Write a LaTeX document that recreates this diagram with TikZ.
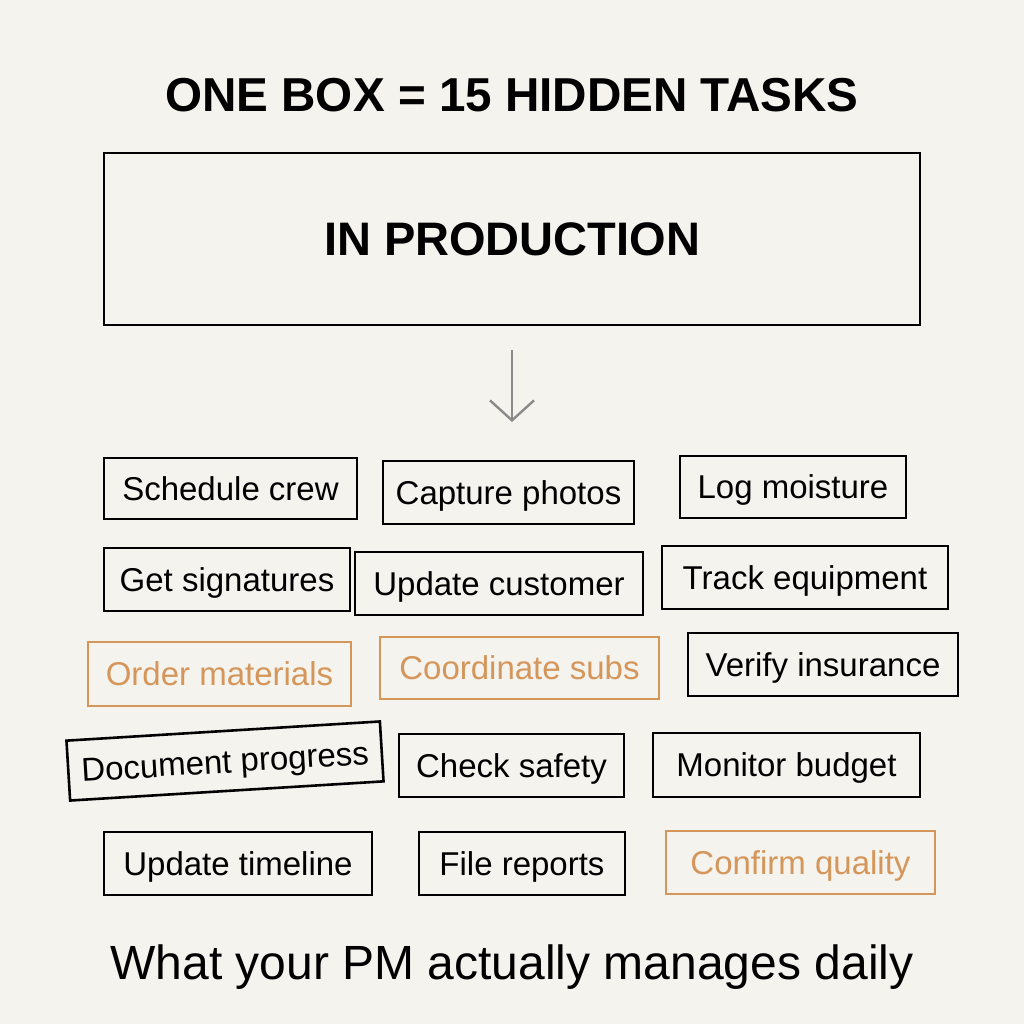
\documentclass[tikz,border=0pt]{standalone}
\usepackage{fontspec}
\setmainfont{Liberation Sans}
\usetikzlibrary{arrows.meta}
\definecolor{bg}{HTML}{F5F3EE}
\definecolor{accent}{HTML}{D4965A}
\definecolor{arrowgray}{HTML}{8A8A8A}
\tikzset{
  task/.style={draw=black, line width=2.6pt, inner sep=0pt, align=center, font=\fontsize{33}{38}\selectfont, text=black, text height=23.8pt, text depth=0pt},
  taskacc/.style={task, draw=accent, text=accent},
}
\newcommand{\taskbox}[7]{% name, x1, y1, x2, y2, style, text
  \node[#6, minimum width={#4-#2}, minimum height={#5-#3}] (#1) at ({(#2+#4)/2},{(#3+#5)/2}) {#7};}
\begin{document}
\begin{tikzpicture}[x=1pt,y=-1pt]
\fill[bg] (0,0) rectangle (1024,1024);
\useasboundingbox (0,0) rectangle (1024,1024);
\node[font=\bfseries\fontsize{47.6}{52}\selectfont, text height=34.3pt, text depth=0pt] (title) at (512,94) {ONE BOX = 15 HIDDEN TASKS};
\node[draw=black, line width=2.6pt, minimum width=816, minimum height=172, inner sep=0pt, font=\bfseries\fontsize{47}{52}\selectfont, text height=33.8pt, text depth=0pt] (main) at (512,239) {IN PRODUCTION};
\coordinate (astart) at (512,350);
\coordinate (aend) at (512,422);
\draw[arrowgray, line width=2.4pt, -{Straight Barb[length=20pt,width=44pt,line width=2.4pt]}] (astart) -- (aend);
\taskbox{t1}{104}{458}{357}{519}{task}{Schedule crew}
\taskbox{t2}{383}{461}{634}{524}{task}{Capture photos}
\taskbox{t3}{680}{456}{906}{518}{task}{Log moisture}
\taskbox{t4}{104}{548}{350}{611}{task}{Get signatures}
\taskbox{t5}{355}{552}{643}{615}{task}{Update customer}
\taskbox{t6}{662}{546}{948}{609}{task}{Track equipment}
\taskbox{t7}{88}{642}{351}{706}{taskacc}{Order materials}
\taskbox{t8}{380}{637}{659}{699}{taskacc}{Coordinate subs}
\taskbox{t9}{688}{633}{958}{696}{task}{Verify insurance}
\node[task, minimum width=314, minimum height=60, rotate=3.5] (t10) at (225,761) {Document progress};
\taskbox{t11}{399}{734}{624}{797}{task}{Check safety}
\taskbox{t12}{653}{733}{920}{797}{task}{Monitor budget}
\taskbox{t13}{104}{832}{372}{895}{task}{Update timeline}
\taskbox{t14}{419}{832}{625}{895}{task}{File reports}
\taskbox{t15}{666}{831}{935}{894}{taskacc}{Confirm quality}
\node[font=\fontsize{48}{54}\selectfont, text height=34.6pt, text depth=0pt] (caption) at (512,962) {What your PM actually manages daily};
\end{tikzpicture}
\end{document}
